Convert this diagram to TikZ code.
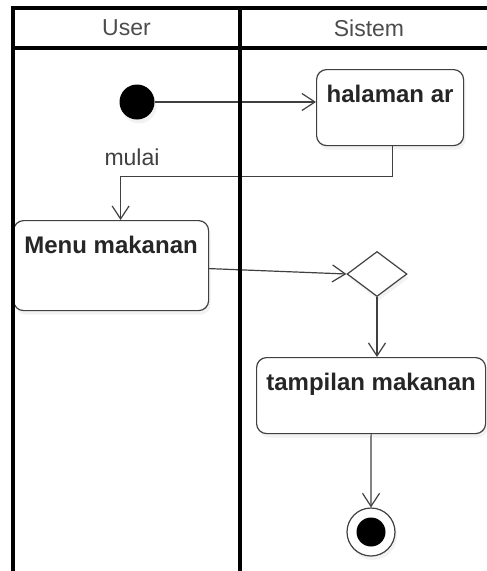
\documentclass[tikz,border=0pt]{standalone}
\usepackage{fontspec}
\setmainfont{Liberation Sans}
\usetikzlibrary{arrows.meta,shapes.geometric,shadows}

\tikzset{
  lane/.style={line width=4pt},
  soft/.style={drop shadow={shadow xshift=2pt,shadow yshift=-4pt,opacity=0.1}},
  act/.style={draw=black!75, fill=white, line width=1.2pt, rounded corners=10pt,
    anchor=north west, inner ysep=15.5pt, text height=17.5pt, text=black!85,
    font=\fontsize{24}{28}\selectfont\bfseries, soft},
  flow/.style={draw=black!75, line width=1.2pt,
    -{Straight Barb[length=13pt,width=17pt]}},
  lanetext/.style={font=\fontsize{23}{28}\selectfont, text=black!70},
}

\begin{document}
\begin{tikzpicture}[x=1pt,y=-1pt]
  \useasboundingbox (0,0) rectangle (487,571);

  % start
  \node[circle, fill=black, minimum size=35pt, inner sep=0, soft] (start) at (137,102) {};
  \node[lanetext, text=black!75] (mulai) at (132,157) {mulai};

  % activities
  \node[act, minimum width=147pt, text depth=27.5pt] (ar) at (316,69) {halaman ar};
  \node[act, minimum width=195pt, text depth=41.5pt] (menu) at (13,220) {Menu makanan};
  \node[act, minimum width=229pt, text depth=27.5pt] (tampil) at (256,357) {tampilan makanan};

  % decision
  \node[diamond, draw=black!75, fill=white, line width=1.2pt, minimum width=60pt,
    minimum height=45pt, inner sep=0, soft] (pilih) at (377,274) {};

  % end
  \node[circle, draw=black!75, fill=white, line width=1.2pt, minimum size=48pt, inner sep=0, soft,
    path picture={\fill[black] (path picture bounding box.center) circle (14.5pt);}] (akhir) at (371,532) {};

  % flows
  \draw[flow] (start) -- (start -| ar.west);
  \draw[flow] ([xshift=2.5pt]ar.south) -- ++(0,30) -| ([xshift=9.5pt]menu.north);
  \draw[flow] ([yshift=-3pt]menu.east) -- (pilih.west);
  \draw[flow] (pilih.south) -- (pilih.south |- tampil.north);
  \draw[flow] (tampil.south) -- (akhir.north);

  % swimlanes
  \draw[lane] (487,8) -- (13,8) -- (13,571);
  \draw[lane] (13,48) -- (487,48);
  \draw[lane] (240,8) -- (240,571);
  \node[lanetext] (user) at (126.5,28) {User};
  \node[lanetext] (sistem) at (369,28) {Sistem};
\end{tikzpicture}
\end{document}
